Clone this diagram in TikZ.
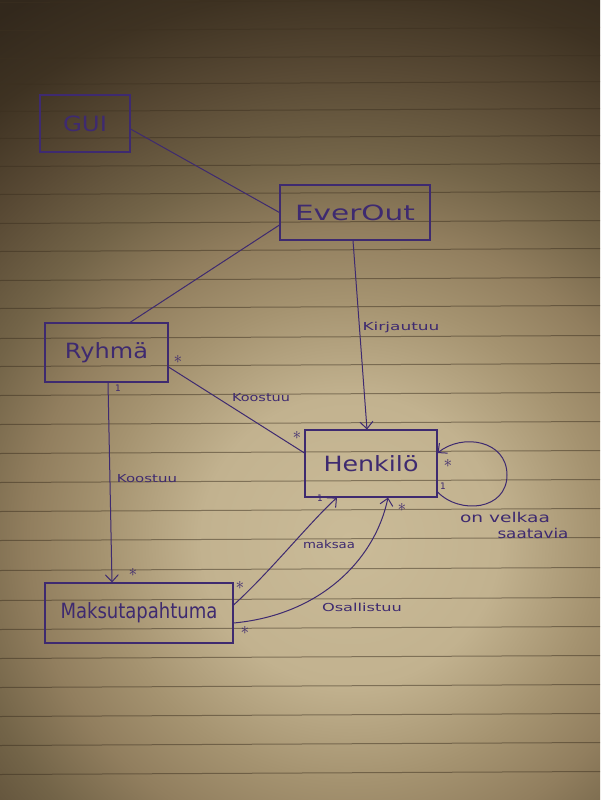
\documentclass[tikz,border=0pt]{standalone}
\usepackage{fontspec}
\setmainfont{DejaVu Sans}
\usetikzlibrary{arrows.meta}
\definecolor{ink}{RGB}{62,42,112}
\definecolor{ruleln}{RGB}{60,48,32}
\definecolor{pa}{RGB}{202,187,152}
\definecolor{pb}{RGB}{194,178,143}
\definecolor{pc}{RGB}{165,147,112}
\definecolor{pd}{RGB}{145,126,94}
\definecolor{pe}{RGB}{115,100,72}
\definecolor{pf}{RGB}{88,73,52}
\definecolor{pg}{RGB}{62,50,34}
\definecolor{ph}{RGB}{50,40,28}
\pgfdeclareradialshading{paper}{\pgfpoint{0bp}{0bp}}{color(0bp)=(pa); color(6bp)=(pb); color(10bp)=(pc); color(13bp)=(pd); color(16bp)=(pe); color(19.6bp)=(pf); color(23bp)=(pg); color(26bp)=(ph); color(50bp)=(ph)}
\newcommand{\hw}[2]{\resizebox{#1}{\height}{#2}}
\begin{document}
\begin{tikzpicture}[x=1pt,y=-1pt,
  box/.style={draw=ink, line width=1.1pt, inner sep=0pt, text=ink, font=\fontsize{21}{21}\selectfont},
  conn/.style={draw=ink, line width=1pt},
  arr/.style={-{Straight Barb[length=7pt,width=13pt,line width=1pt]}},
  lbl/.style={text=ink, inner sep=0pt, font=\fontsize{11}{11}\selectfont},
  big/.style={text=ink, inner sep=0pt, font=\fontsize{13.5}{13.5}\selectfont},
  mult/.style={text=ink, inner sep=0pt, font=\fontsize{16}{16}\selectfont},
  one/.style={text=ink, inner sep=0pt, font=\fontsize{9}{9}\selectfont},
  rule/.style={draw=ruleln, line width=1pt, opacity=0.5}]
\useasboundingbox (0,0) rectangle (600,800);
\begin{scope}
  \clip (0,0) rectangle (600,800);
  \shade[shading=paper] (-270,-60) rectangle (970,1140);
\end{scope}
\foreach \y in {1,29,57,83,110,137,165,193,222,250,279,307,337,365,394,423,452,481,510,539,569,599,628,657,686,715,744,773}
  \draw[rule] (0,\y+1.5) -- (600,\y-1.5);

% boxes
\node[box, minimum width=90pt, minimum height=57pt] (gui) at (85,123.5) {\hw{44pt}{GUI}};
\node[box, minimum width=150pt, minimum height=55pt] (ever) at (355,212.5) {\hw{120pt}{EverOut}};
\node[box, minimum width=123pt, minimum height=59pt] (ryhma) at (106.5,352.5) {\hw{83pt}{Ryhmä}};
\node[box, minimum width=132pt, minimum height=67pt] (henk) at (371,463.5) {\hw{95pt}{Henkilö}};
\node[box, minimum width=188pt, minimum height=60pt] (maks) at (139,613) {\hw{157pt}{Maksutapahtuma}};

% connectors
\draw[conn] ([yshift=-5.5pt]gui.east) -- (ever.west);
\draw[conn] ([xshift=23.5pt]ryhma.north) -- ([yshift=-12.5pt]ever.west);
\draw[conn,arr] ([xshift=-2pt]ever.south) -- ([xshift=-4pt]henk.north);
\draw[conn] ([yshift=-14.5pt]ryhma.east) -- ([yshift=10.5pt]henk.west);
\draw[conn,arr] ([xshift=1.5pt]ryhma.south) -- ([xshift=-27pt]maks.north);
\draw[conn,arr] ([yshift=8pt]maks.east) .. controls (270,572) and (310,522) .. ([xshift=-34pt]henk.south);
\draw[conn,arr] ([yshift=-10pt]maks.east) .. controls (320,615) and (375,560) .. ([xshift=17pt]henk.south);
\draw[conn,arr] ([yshift=-28.5pt]henk.east) .. controls (460,515) and (507,510) .. (507,475) .. controls (507,440) and (462,433) .. ([yshift=10.5pt]henk.east);

% labels
\node[lbl] (lkirj) at (401,327) {\hw{77pt}{Kirjautuu}};
\node[lbl] (lkoos1) at (261,398) {\hw{58pt}{Koostuu}};
\node[lbl] (lkoos2) at (147,479) {\hw{60pt}{Koostuu}};
\node[lbl] (lmaks) at (329,544) {\hw{52pt}{maksaa}};
\node[lbl] (losal) at (362,607) {\hw{80pt}{Osallistuu}};
\node[big] (lvelk) at (505,517) {\hw{90pt}{on velkaa}};
\node[big] (lsaat) at (533,533) {\hw{71pt}{saatavia}};

% multiplicities
\node[mult] (m1) at (178,359) {$\ast$};
\node[mult] (m2) at (297,435) {$\ast$};
\node[mult] (m3) at (448,463) {$\ast$};
\node[mult] (m4) at (133,572) {$\ast$};
\node[mult] (m5) at (240,585) {$\ast$};
\node[mult] (m6) at (245,630) {$\ast$};
\node[mult] (m7) at (402,507) {$\ast$};
\node[one] (o1) at (118,388) {1};
\node[one] (o2) at (443,486) {1};
\node[one] (o3) at (320,498) {1};
\end{tikzpicture}
\end{document}
